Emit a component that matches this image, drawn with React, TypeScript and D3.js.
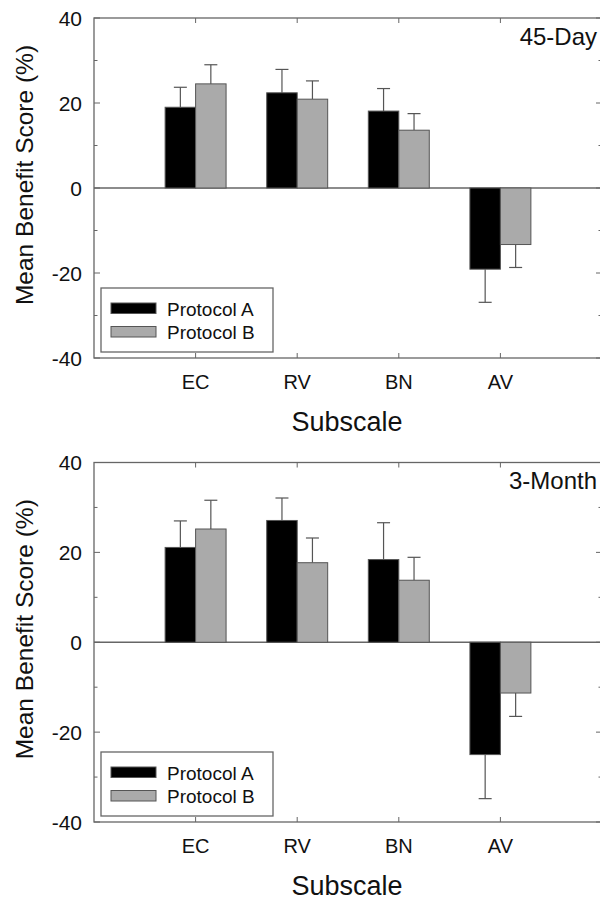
import { useEffect, useRef } from 'react';
import * as d3 from 'd3';

const categories = ['EC', 'RV', 'BN', 'AV'];

// 45-Day panel
const dayProtocolA = [19.0, 22.4, 18.1, -19.1];
const dayProtocolAErr = [4.7, 5.5, 5.3, 7.8];
const dayProtocolB = [24.5, 20.9, 13.6, -13.3];
const dayProtocolBErr = [4.5, 4.3, 3.9, 5.4];

// 3-Month panel
const monthProtocolA = [21.1, 27.1, 18.4, -25.0];
const monthProtocolAErr = [5.9, 5.0, 8.2, 9.8];
const monthProtocolB = [25.2, 17.7, 13.8, -11.3];
const monthProtocolBErr = [6.4, 5.5, 5.1, 5.2];

const majorTicks = [-40, -20, 0, 20, 40];
const minorTicks = [-30, -10, 10, 30];
const seriesNames = ['Protocol A', 'Protocol B'];
const seriesColors = ['#000000', '#aaaaaa'];

const FONT = 'Liberation Sans, Arial, Helvetica, sans-serif';
const AXIS = '#666666';

const App = () => {
  const ref = useRef<SVGSVGElement>(null);

  useEffect(() => {
    if (!ref.current) return;
    const svg = d3.select(ref.current);
    svg.selectAll('*').remove();

    const panels = [
      { label: '45-Day', top: 18, bottom: 358, a: dayProtocolA, aErr: dayProtocolAErr, b: dayProtocolB, bErr: dayProtocolBErr },
      { label: '3-Month', top: 462.5, bottom: 822, a: monthProtocolA, aErr: monthProtocolAErr, b: monthProtocolB, bErr: monthProtocolBErr },
    ];

    const left = 94;
    const right = 602;

    // categories sit at 1..4 on a 0..5 axis
    const x = d3.scaleLinear().domain([0, categories.length + 1]).range([left, right]);
    const barW = x(0.3) - x(0);

    panels.forEach(p => {
      const y = d3.scaleLinear().domain([-40, 40]).range([p.bottom, p.top]);
      const g = svg.append('g');

      // frame
      g.append('rect')
        .attr('x', left).attr('y', p.top)
        .attr('width', right - left).attr('height', p.bottom - p.top)
        .attr('fill', 'none').attr('stroke', AXIS).attr('stroke-width', 1.3);

      // zero line
      g.append('line')
        .attr('x1', left).attr('x2', right)
        .attr('y1', y(0)).attr('y2', y(0))
        .attr('stroke', AXIS).attr('stroke-width', 1.3);

      // y ticks (both sides, inward)
      const yt = [...majorTicks.map(v => ({ v, len: 6 })), ...minorTicks.map(v => ({ v, len: 3.5 }))];
      yt.forEach(t => {
        g.append('line').attr('x1', left).attr('x2', left + t.len)
          .attr('y1', y(t.v)).attr('y2', y(t.v)).attr('stroke', AXIS);
        g.append('line').attr('x1', right - t.len).attr('x2', right)
          .attr('y1', y(t.v)).attr('y2', y(t.v)).attr('stroke', AXIS);
      });

      majorTicks.forEach(v => {
        g.append('text')
          .attr('x', 82).attr('y', y(v))
          .attr('dy', '0.36em')
          .attr('text-anchor', 'end')
          .style('font-family', FONT).style('font-size', '21px').style('fill', '#111')
          .text(v);
      });

      // x ticks top and bottom
      categories.forEach((c, i) => {
        const cx = x(i + 1);
        g.append('line').attr('x1', cx).attr('x2', cx)
          .attr('y1', p.bottom).attr('y2', p.bottom - 5).attr('stroke', AXIS);
        g.append('line').attr('x1', cx).attr('x2', cx)
          .attr('y1', p.top).attr('y2', p.top + 5).attr('stroke', AXIS);
        g.append('text')
          .attr('x', cx).attr('y', p.bottom + 31)
          .attr('text-anchor', 'middle')
          .style('font-family', FONT).style('font-size', '20px').style('fill', '#111')
          .text(c);
      });

      // bars + error bars
      const series = [
        { vals: p.a, errs: p.aErr, offset: -1 },
        { vals: p.b, errs: p.bErr, offset: 0 },
      ];
      series.forEach((s, si) => {
        s.vals.forEach((v, i) => {
          const x0 = x(i + 1) + s.offset * barW;
          const cx = x0 + barW / 2;
          const tip = v + Math.sign(v) * s.errs[i];
          g.append('line')
            .attr('x1', cx).attr('x2', cx)
            .attr('y1', y(v)).attr('y2', y(tip))
            .attr('stroke', '#555').attr('stroke-width', 1.2);
          g.append('line')
            .attr('x1', cx - 6.5).attr('x2', cx + 6.5)
            .attr('y1', y(tip)).attr('y2', y(tip))
            .attr('stroke', '#555').attr('stroke-width', 1.2);
          g.append('rect')
            .attr('x', x0).attr('width', barW)
            .attr('y', y(Math.max(0, v)))
            .attr('height', Math.abs(y(v) - y(0)))
            .attr('fill', seriesColors[si])
            .attr('stroke', '#555').attr('stroke-width', 1);
        });
      });

      // panel label
      g.append('text')
        .attr('x', 597).attr('y', p.top + 26.5)
        .attr('text-anchor', 'end')
        .style('font-family', FONT).style('font-size', '24px').style('fill', '#111')
        .text(p.label);

      // legend
      const lg = g.append('g').attr('transform', `translate(101,${p.bottom - 70})`);
      lg.append('rect')
        .attr('width', 172).attr('height', 64)
        .attr('fill', 'white').attr('stroke', AXIS).attr('stroke-width', 1.3);
      seriesNames.forEach((name, i) => {
        lg.append('rect')
          .attr('x', 10).attr('y', 15 + i * 23.5)
          .attr('width', 45).attr('height', 10.5)
          .attr('fill', seriesColors[i]).attr('stroke', '#555').attr('stroke-width', 1);
        lg.append('text')
          .attr('x', 66).attr('y', 27.5 + i * 23)
          .style('font-family', FONT).style('font-size', '19px').style('fill', '#111')
          .text(name);
      });

      // axis titles
      g.append('text')
        .attr('x', (left + right) / 2 - 1).attr('y', p.bottom + 73)
        .attr('text-anchor', 'middle')
        .style('font-family', FONT).style('font-size', '27px').style('fill', '#111')
        .text('Subscale');

      g.append('text')
        .attr('transform', `translate(33,${(p.top + p.bottom) / 2 - 13}) rotate(-90)`)
        .attr('text-anchor', 'middle')
        .style('font-family', FONT).style('font-size', '24.5px').style('fill', '#111')
        .text('Mean Benefit Score (%)');
    });
  }, []);

  return (
    <svg
      ref={ref}
      width={600}
      height={902}
      style={{ position: 'absolute', left: 0, top: 0, background: 'white' }}
    />
  );
};

export default App;
